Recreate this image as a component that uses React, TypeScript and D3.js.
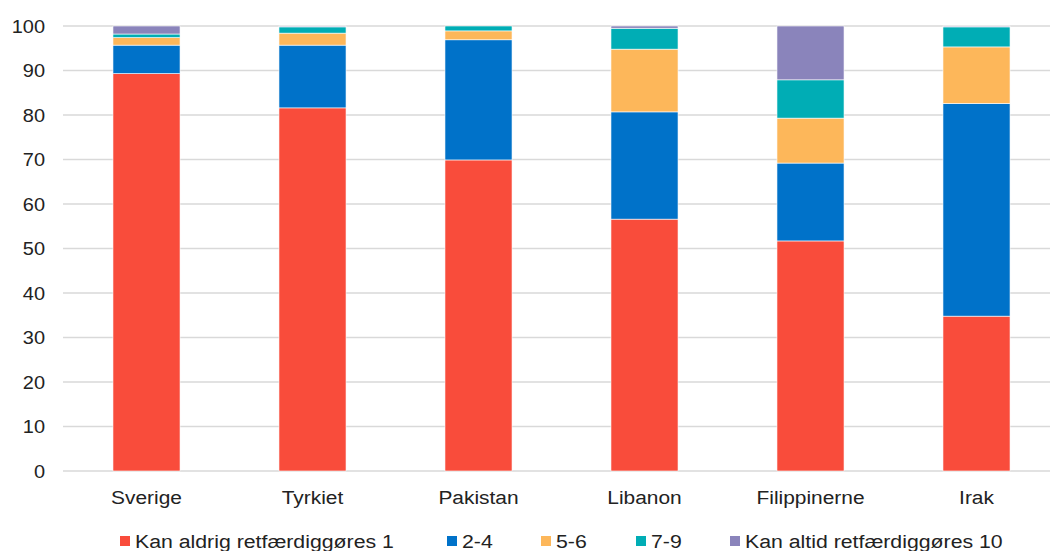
import React from "react";
import * as d3 from "d3";

const categories = ["Sverige", "Tyrkiet", "Pakistan", "Libanon", "Filippinerne", "Irak"];
const seriesNames = ["Kan aldrig retfærdiggøres 1", "2-4", "5-6", "7-9", "Kan altid retfærdiggøres 10"];
const s1 = [89.3, 81.6, 69.9, 56.6, 51.7, 34.8];
const s2 = [6.4, 14.1, 27.0, 24.1, 17.5, 47.8];
const s3 = [1.7, 2.7, 2.0, 14.1, 10.1, 12.7];
const s4 = [0.8, 1.4, 1.1, 4.7, 8.6, 4.5];
const s5 = [1.8, 0.2, 0.0, 0.5, 12.1, 0.2];
const yTicks = [0, 10, 20, 30, 40, 50, 60, 70, 80, 90, 100];
const colors = ["#F94C3B", "#0072C9", "#FDB75A", "#00ADB5", "#8A84BB"];

function T({ x, y, anchor = "start", sx = 1.1, children }: any) {
  return (
    <text transform={`translate(${x},${y}) scale(${sx},1)`} dy="0.35em" textAnchor={anchor} fontSize={19} fill="#222">
      {children}
    </text>
  );
}

export default function App() {
  const W = 1050, H = 551;
  const x = d3.scaleBand().domain(categories).range([63.5, 1059.5]).paddingInner(0.596).paddingOuter(0.298);
  const y = d3.scaleLinear().domain([0, 100]).range([471, 26]);
  const series = [s1, s2, s3, s4, s5];
  const rows = categories.map((c, i) => {
    const r: any = { cat: c };
    series.forEach((s, k) => (r["k" + k] = s[i]));
    return r;
  });
  const stack = d3.stack().keys(series.map((_, k) => "k" + k))(rows);
  const font = "'Liberation Sans', Arial, sans-serif";
  const legendX = [120, 447, 541, 636, 730];
  return (
    <svg width={W} height={H} style={{ position: "absolute", left: 0, top: 0, background: "#fff" }} fontFamily={font}>
      {yTicks.map((t) => (
        <g key={t}>
          <line x1={63} x2={1050} y1={y(t)} y2={y(t)} stroke="#D9D9D9" strokeWidth={1.3} />
          <T x={45} y={y(t)} anchor="end" sx={1.05}>{t}</T>
        </g>
      ))}
      {stack.map((layer, k) => (
        <g key={k} fill={colors[k]}>
          {layer.map((d, i) => (
            <rect key={i} x={x(categories[i])} width={x.bandwidth()} y={y(d[1])} height={Math.max(0, y(d[0]) - y(d[1]))} stroke="#fff" strokeWidth={0.6} />
          ))}
        </g>
      ))}
      {categories.map((c) => (
        <T key={c} x={(x(c) as number) + x.bandwidth() / 2} y={497.5} anchor="middle" sx={1.1}>{c}</T>
      ))}
      {seriesNames.map((n, k) => (
        <g key={n}>
          <rect x={legendX[k]} y={536} width={10} height={10} fill={colors[k]} />
          <T x={legendX[k] + 15} y={541} sx={1.12}>{n}</T>
        </g>
      ))}
    </svg>
  );
}
